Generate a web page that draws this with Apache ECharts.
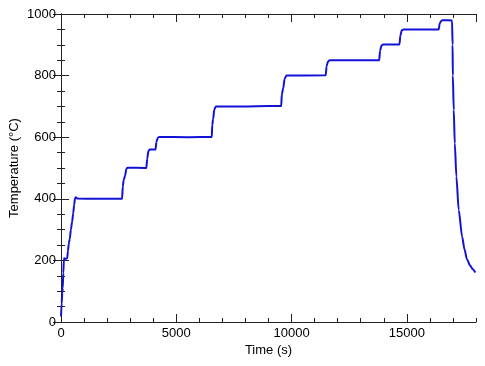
<!DOCTYPE html>
<html>
<head>
<meta charset="utf-8">
<script src="https://cdn.jsdelivr.net/npm/echarts@6/dist/echarts.min.js"></script>
<style>
  html, body { margin: 0; padding: 0; background: #fff; }
  #temp_line { width: 485px; height: 366px; }
</style>
</head>
<body>
<div id="temp_line"></div>
<script>
// furnace run: time in seconds, temperature in deg C
const time = [
  0, 30, 55, 75, 100, 125, 140, 200, 270, 300, 340, 380, 430, 480, 530, 570, 610, 650, 700,
  1500, 2650, 2680, 2720, 2780, 2830, 2880, 3700, 3740, 3790, 3850, 4100, 4140, 4200, 4260,
  5500, 6540, 6560, 6600, 6650, 6720, 8000, 9000, 9550, 9580, 9640, 9700, 9780,
  11480, 11520, 11580, 11660, 13800, 13840, 13900, 13980, 14680, 14720, 14780, 14850,
  16380, 16430, 16500, 16560, 16960, 16985, 16995, 17035, 17080, 17150, 17250, 17400,
  17500, 17610, 17750, 17860, 17970
]
const temp = [
  18, 60, 95, 110, 160, 200, 207, 205, 207, 230, 255, 270, 300, 325, 353, 380, 403, 405, 401,
  400, 400, 440, 462, 475, 497, 501, 500, 530, 555, 560, 560, 585, 598, 601,
  600, 601, 640, 660, 690, 700, 700, 701, 701, 740, 760, 790, 800,
  801, 830, 846, 850, 850, 880, 898, 901, 901, 930, 947, 950,
  950, 970, 978, 980, 979, 900, 800, 688, 580, 472, 364, 277,
  236, 203, 183, 171, 161
]
const xMajor = 5000
const xMinor = 1000
const yMajor = 200

const font = 'Liberation Sans, Arial, Helvetica, sans-serif'
const axisColor = '#222'

function xAxisDef(pos, interval, len, withLabel) {
  return {
    type: 'value',
    position: pos,
    min: 0,
    max: 18000,
    interval: interval,
    axisLine: { show: withLabel, lineStyle: { color: axisColor, width: 1 } },
    axisTick: { show: true, inside: true, length: len, lineStyle: { color: axisColor, width: 1 } },
    axisLabel: {
      show: withLabel && pos === 'bottom',
      showMaxLabel: false,
      formatter: v => String(v),
      color: '#000',
      fontSize: 13,
      fontFamily: font,
      margin: 5
    },
    splitLine: { show: false },
    name: withLabel && pos === 'bottom' ? 'Time (s)' : '',
    nameLocation: 'middle',
    nameGap: 22,
    nameMoveOverlap: false,
    nameTextStyle: { color: '#000', fontSize: 13, fontFamily: font }
  }
}

function yAxisDef(pos, withLabel) {
  return {
    type: 'value',
    position: pos,
    min: 0,
    max: 1000,
    interval: yMajor,
    axisLine: { show: true, lineStyle: { color: axisColor, width: 1 } },
    axisTick: { show: true, inside: true, length: 8, lineStyle: { color: axisColor, width: 1 } },
    minorTick: { show: true, splitNumber: 4, length: 4, lineStyle: { color: axisColor, width: 1 } },
    axisLabel: {
      show: withLabel,
      formatter: v => String(v),
      color: '#000',
      fontSize: 13,
      fontFamily: font,
      margin: 5
    },
    splitLine: { show: false },
    name: withLabel ? 'Temperature (°C)' : '',
    nameLocation: 'middle',
    nameGap: 40,
    nameMoveOverlap: false,
    nameTextStyle: { color: '#000', fontSize: 13, fontFamily: font }
  }
}

const chart = echarts.init(document.getElementById('temp_line'))
chart.setOption({
  animation: false,
  grid: { left: 61, right: 9, top: 14, bottom: 44, containLabel: false, outerBoundsMode: 'none' },
  xAxis: [
    xAxisDef('bottom', xMajor, 8, true),
    xAxisDef('bottom', xMinor, 4, false),
    xAxisDef('top', xMajor, 8, true),
    xAxisDef('top', xMinor, 4, false)
  ],
  yAxis: [
    yAxisDef('left', true),
    yAxisDef('right', false)
  ],
  series: [
    {
      type: 'line',
      xAxisIndex: 0,
      yAxisIndex: 0,
      data: time.map((t, i) => [t, temp[i]]),
      showSymbol: false,
      smooth: 0.25,
      smoothMonotone: 'x',
      lineStyle: { color: '#1212d6', width: 2 },
      itemStyle: { color: '#1212d6' }
    }
  ]
})
</script>
</body>
</html>
